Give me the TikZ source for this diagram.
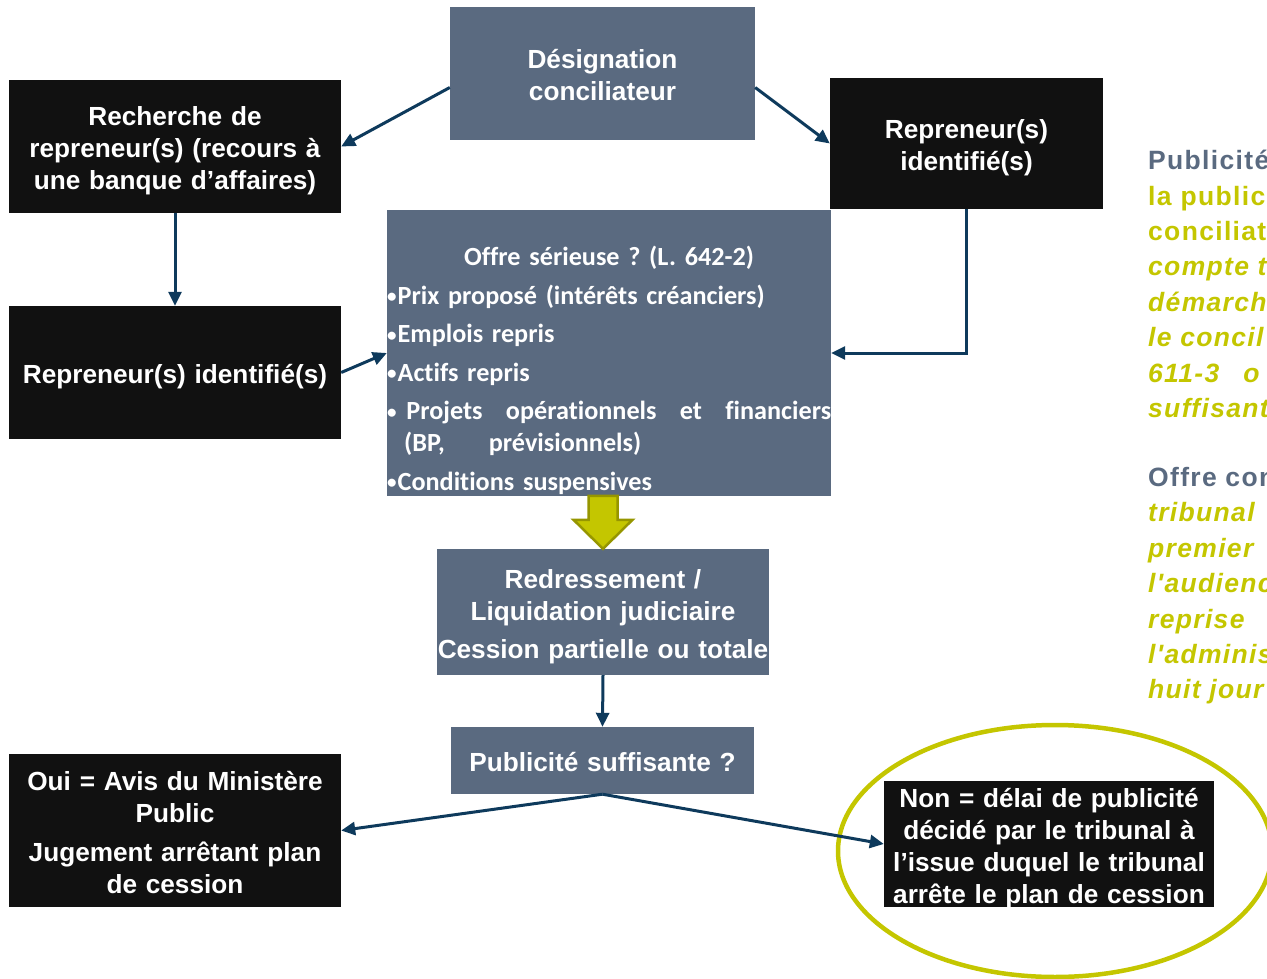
\documentclass[tikz,border=0pt]{standalone}
\usepackage{fontspec}
\setmainfont{Liberation Sans}
\newfontfamily\carlito[Ligatures=NoCommon]{Carlito}
\newfontfamily\notefont[LetterSpace=5]{Liberation Sans}
\usetikzlibrary{arrows.meta}
\definecolor{slate}{RGB}{90,106,128}
\definecolor{navy}{RGB}{14,58,92}
\definecolor{olive}{RGB}{196,198,0}
\definecolor{darkolive}{RGB}{150,150,0}
\definecolor{boxblack}{RGB}{17,17,17}
\newcommand\blt{\raisebox{1.5pt}{\fontsize{19}{19}\selectfont•}\kern1pt}
\frenchspacing

\begin{document}
\begin{tikzpicture}[x=1pt, y=-1pt]
            \tikzstyle{slatebox} = [fill=slate, text=white, align=center, inner sep=0pt, text height=22pt, text depth=0pt, font=\bfseries\fontsize{26.2}{32}\selectfont]
            \tikzstyle{blackbox} = [fill=boxblack, text=white, align=center, inner sep=0pt, text height=22pt, text depth=0pt, font=\bfseries\fontsize{26.2}{32}\selectfont]
            \tikzstyle{listtext} = [anchor=north west, text width=444pt, align=left, inner sep=0pt, text=white, font=\carlito\bfseries\fontsize{26.2}{32}\selectfont]
            \tikzstyle{note} = [anchor=north west, align=left, inner sep=0pt, text=olive, font=\notefont\bfseries\fontsize{26.5}{35.4}\selectfont]
            \tikzstyle{link} = [line width=3pt, navy, -{Triangle[length=14pt, width=13pt]}]
            \tikzstyle{ring} = [line width=4.5pt, olive]
            \tikzstyle{bigarrow} = [fill=olive, draw=darkolive, line width=2.5pt, line join=miter]
            \clip (0,0) rectangle (1267,979);
            % boxes
            \node[slatebox, minimum width=305pt, minimum height=133pt, text width=305pt, text depth=32pt] (desig) at (602.5,73.5) {Désignation\\conciliateur};
            \node[blackbox, minimum width=332pt, minimum height=133pt, text width=332pt, text depth=64pt] (recherche) at (175,146.5) {Recherche de\\repreneur(s) (recours à\\une banque d’affaires)};
            \node[blackbox, minimum width=273pt, minimum height=131pt, text width=273pt, text depth=32pt] (repR) at (966.5,143.5) {Repreneur(s)\\identifié(s)};
            \node[blackbox, minimum width=332pt, minimum height=133pt, text width=332pt] (repL) at (175,372.5) {Repreneur(s) identifié(s)};
            \node[slatebox, minimum width=444pt, minimum height=286pt] (offre) at (609,353) {};
            \node[listtext] (offrelist) at (387,246) {\makebox[444pt]{Offre sérieuse ? (L. 642-2)}\\[6.5pt]
                \blt Prix proposé (intérêts créanciers)\\[6.5pt]
                \blt Emplois repris\\[6.5pt]
                \blt Actifs repris\\[6.5pt]
                \makebox[444pt]{\blt\ Projets\hfill opérationnels\hfill et\hfill financiers}\\
                \hspace*{17pt}(BP,\hspace{44pt}prévisionnels)\\[6.5pt]
                \blt Conditions suspensives};
            \node[slatebox, minimum width=332pt, minimum height=126pt, text width=332pt, text depth=70pt] (redress) at (603,612) {Redressement /\\Liquidation judiciaire\\[6pt]\makebox[332pt]{Cession partielle ou totale}};
            \node[slatebox, minimum width=303pt, minimum height=67pt, text width=303pt] (pub) at (602.5,760.5) {Publicité suffisante ?};
            \node[blackbox, minimum width=332pt, minimum height=153pt, text width=332pt, text depth=103pt] (oui) at (175,830.5) {Oui = Avis du Ministère\\Public\\[7pt]Jugement arrêtant plan\\de cession};
            \draw[ring] (1055,851) ellipse [x radius=217pt, y radius=126pt];
            \node[blackbox, minimum width=330pt, minimum height=126pt, text width=330pt, text depth=96pt] (non) at (1049,844) {Non = délai de publicité\\décidé par le tribunal à\\l’issue duquel le tribunal\\arrête le plan de cession};
            % arrows
            \draw[link] ([yshift=-14pt]desig.west) -- (recherche.east);
            \draw[link] ([yshift=-14pt]desig.east) -- (repR.west);
            \draw[link] (recherche.south) -- (repL.north);
            \draw[link] (repL.east) -- (offre.west);
            \draw[link] (repR.south) |- (offre.east);
            \draw[bigarrow, shift={(redress.north)}] (-14.5,-53) -- (14.5,-53) -- (14.5,-29) -- (29.5,-29) -- (0,0) -- (-29.5,-29) -- (-14.5,-29) -- cycle;
            \draw[link] (redress.south) -- (pub.north);
            \draw[link] (pub.south) -- (oui.east);
            \draw[link] (pub.south) -- (non.west);
            % notes on the right
            \node[note] (pubnote) at (1148,150) {\textcolor{slate}{Publicité}\\la\hspace{9pt}public\\conciliat\\\textit{compte t}\\\textit{démarch}\\\textit{le concil}\\\textit{611-3\hspace{24pt}o}\\\textit{suffisant}};
            \node[note] (offrenote) at (1148,467) {\textcolor{slate}{Offre con}\\\textit{tribunal}\\\textit{premier}\\\textit{l'audienc}\\\textit{reprise}\\\textit{l'adminis}\\\textit{huit jour}};
        \end{tikzpicture}
\end{document}
